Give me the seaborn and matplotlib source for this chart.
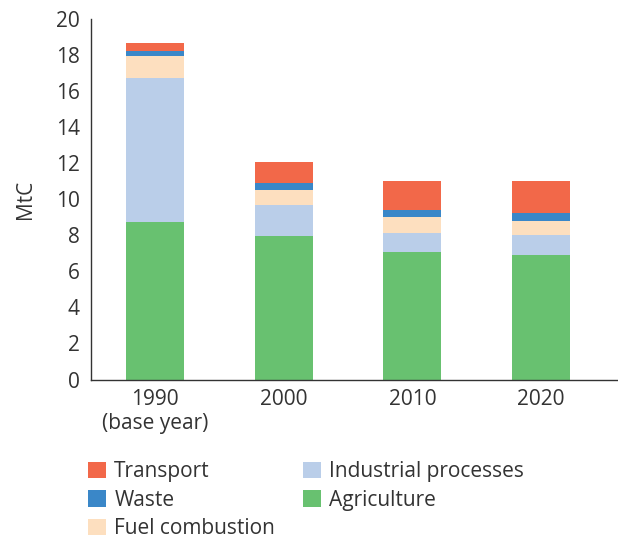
import numpy as np
import pandas as pd
import matplotlib
matplotlib.use("Agg")
import matplotlib.pyplot as plt
from matplotlib.patches import Patch
import seaborn as sns

years = ["1990\n(base year)", "2000", "2010", "2020"]
agriculture = [8.75, 7.94, 7.05, 6.93]
industrial = [7.98, 1.72, 1.06, 1.10]
fuel = [1.22, 0.87, 0.92, 0.78]
waste = [0.28, 0.35, 0.40, 0.44]
transport = [0.46, 1.18, 1.61, 1.79]

series_names = ["Agriculture", "Industrial processes", "Fuel combustion", "Waste", "Transport"]
series_vals = [agriculture, industrial, fuel, waste, transport]
colors = {"Agriculture": "#68C170", "Industrial processes": "#BACEE9",
          "Fuel combustion": "#FDDFBF", "Waste": "#3A87C8", "Transport": "#F26849"}

sns.set_theme(style="white")
plt.rcParams['font.family'] = ['Open Sans', 'DejaVu Sans']
txt = "#333333"
fs = 15

fig = plt.figure(figsize=(6.18, 5.39), dpi=100)
ax = fig.add_axes([91/618, 1-379.5/539, (618-91)/618, (379.5-19)/539])

cum = np.cumsum(np.array(series_vals), axis=0)
# draw from tallest cumulative down so each layer shows
for i in range(len(series_names) - 1, -1, -1):
    df = pd.DataFrame({"year": years, "value": cum[i]})
    sns.barplot(data=df, x="year", y="value", color=colors[series_names[i]],
                width=0.45, saturation=1, ax=ax, linewidth=0, edgecolor="none")

ax.set_xlim(-0.5, 3.6)
ax.set_ylim(0, 20)
ax.set_yticks(range(0, 21, 2))
ax.set_xlabel("")
ax.set_ylabel("MtC", fontsize=fs, color=txt, labelpad=14)
ax.tick_params(axis="both", length=0, labelsize=fs, labelcolor=txt)
ax.tick_params(axis="y", pad=8)
ax.tick_params(axis="x", pad=7)
for s in ["top", "right"]:
    ax.spines[s].set_visible(False)
for s in ["left", "bottom"]:
    ax.spines[s].set_color("#333333")
    ax.spines[s].set_linewidth(1.0)

order = ["Transport", "Waste", "Fuel combustion", "Industrial processes", "Agriculture"]
handles = [Patch(facecolor=colors[n], edgecolor="none", label=n) for n in order]
leg = fig.legend(handles=handles, loc="upper left", bbox_to_anchor=(80/618, 1-453/539),
                 ncol=2, frameon=False, fontsize=fs, handlelength=0.85, handleheight=0.85,
                 handletextpad=0.4, labelspacing=0.36, columnspacing=1.35, borderaxespad=0)
for t in leg.get_texts():
    t.set_color(txt)

fig.savefig("out.png", dpi=100)
